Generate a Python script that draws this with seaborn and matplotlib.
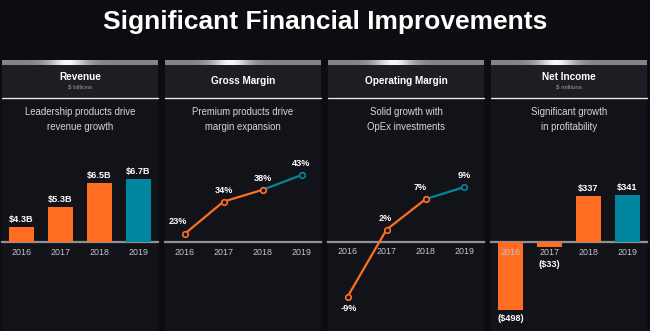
import matplotlib
matplotlib.use("Agg")
import matplotlib.pyplot as plt
import seaborn as sns
import numpy as np
import pandas as pd
from matplotlib.patches import Rectangle

# ---------------- data ----------------
years = ["2016", "2017", "2018", "2019"]
revenue = [4.3, 5.3, 6.5, 6.7]
revenue_labels = ["$4.3B", "$5.3B", "$6.5B", "$6.7B"]
gross_margin = [23, 34, 38, 43]
gross_margin_labels = ["23%", "34%", "38%", "43%"]
operating_margin = [-9, 2, 7, 9]
operating_margin_labels = ["-9%", "2%", "7%", "9%"]
net_income = [-498, -33, 337, 341]
net_income_labels = ["($498)", "($33)", "$337", "$341"]

panel_titles = ["Revenue", "Gross Margin", "Operating Margin", "Net Income"]
panel_units = ["$ billions", "", "", "$ millions"]
panel_notes = ["Leadership products drive\nrevenue growth",
               "Premium products drive\nmargin expansion",
               "Solid growth with\nOpEx investments",
               "Significant growth\nin profitability"]
title = "Significant Financial Improvements"

# ---------------- style ----------------
ORANGE = "#FF6D22"
TEAL = "#00879F"
BG = "#0C0D11"
PANEL = "#121318"
HEADER = "#1D1E23"
TICK = "#C4C6CC"
BASE = "#8E9095"

sns.set_theme(style="dark")
plt.rcParams["font.family"] = ["Liberation Sans", "DejaVu Sans"]

W, H = 650, 331
fig = plt.figure(figsize=(6.5, 3.31), dpi=100, facecolor=BG)


def ax_px(x, y, w, h):
    a = fig.add_axes([x / W, 1 - (y + h) / H, w / W, h / H])
    a.set_facecolor("none")
    return a


# background decoration
bg = fig.add_axes([0, 0, 1, 1])
bg.set_facecolor(BG)
panel_x = [2, 165, 328, 491]
pw = 156
xs = np.linspace(0, 1, 200)
lum = 0.52 + 0.45 * np.exp(-((xs - 0.42) / 0.12) ** 2)
grad = np.dstack([lum, lum, lum * 1.02]).clip(0, 1)
for i, px in enumerate(panel_x):
    bg.add_patch(Rectangle((px, 60), pw, H - 60, color=PANEL, lw=0, zorder=1))
    bg.add_patch(Rectangle((px, 60), pw, 37, color=HEADER, lw=0, zorder=2))
    bg.imshow(grad, extent=(px, px + pw, 65, 60), aspect="auto", zorder=3,
              interpolation="bilinear")
    bg.plot([px, px + pw], [97.5, 97.5], color="#E8E8E8", lw=1.0, zorder=4)
    cx = px + pw / 2
    if panel_units[i]:
        bg.text(cx, 77, panel_titles[i], color="white", fontsize=7.2, fontweight="bold",
                ha="center", va="center", zorder=5)
        bg.text(cx, 87, panel_units[i], color="#9A9CA2", fontsize=4.5,
                ha="center", va="center", zorder=5)
    else:
        bg.text(cx, 81, panel_titles[i], color="white", fontsize=7.2, fontweight="bold",
                ha="center", va="center", zorder=5)
    bg.text(cx, 119.5, panel_notes[i], color="#D4D6DA", fontsize=6.9,
            ha="center", va="center", linespacing=1.55, zorder=5)
bg.text(W / 2, 22, title, color="white", fontsize=19, fontweight="bold",
        ha="center", va="center", zorder=5)
bg.set_xlim(0, W)
bg.set_ylim(H, 0)
bg.axis("off")


def style_axis(a, base_val):
    a.set_axisbelow(False)
    for s in ["top", "right", "left"]:
        a.spines[s].set_visible(False)
    a.spines["bottom"].set_position(("data", base_val))
    a.spines["bottom"].set_color(BASE)
    a.spines["bottom"].set_linewidth(1.6)
    a.spines["bottom"].set_zorder(0.5)
    a.set_yticks([])
    a.set_ylabel("")
    a.set_xlabel("")
    a.grid(False)
    a.tick_params(axis="x", length=0, pad=4, labelsize=6.4, labelcolor=TICK)
    a.set_xlim(-0.5, 3.5)


colors4 = [ORANGE, ORANGE, ORANGE, TEAL]
lab_kw = dict(color="white", fontsize=6.6, fontweight="bold", ha="center",
              textcoords="offset points")

# ---- Panel 1: revenue bars ----
a1 = ax_px(panel_x[0], 140, pw, 102)
df_rev = pd.DataFrame({"year": years, "value": revenue})
sns.barplot(data=df_rev, x="year", y="value", hue="year", palette=colors4,
            legend=False, width=0.62, saturation=1, linewidth=0, ax=a1)
a1.set_ylim(3.55, 8.65)
style_axis(a1, 3.55)
for i, (v, t) in enumerate(zip(revenue, revenue_labels)):
    a1.annotate(t, (i, v), xytext=(0, 2.5), va="bottom", **lab_kw)

# ---- Panel 2: gross margin line ----
a2 = ax_px(panel_x[1], 140, pw, 102)
df_gm = pd.DataFrame({"year": years, "value": gross_margin})
sns.lineplot(data=df_gm.iloc[:3], x="year", y="value", color=ORANGE, lw=1.6,
             marker="o", ms=4, mfc=PANEL, mec=ORANGE, mew=1.2, zorder=4,
             clip_on=False, ax=a2)
sns.lineplot(data=df_gm.iloc[2:], x="year", y="value", color=TEAL, lw=1.6,
             marker="o", ms=4, mfc=PANEL, mec=TEAL, mew=1.2, zorder=3,
             clip_on=False, ax=a2)
a2.set_ylim(20.3, 54.9)
style_axis(a2, 20.3)
gm_off = [(-5, 6), (0, 5), (0, 5), (0, 5)]
for i, (v, t) in enumerate(zip(gross_margin, gross_margin_labels)):
    a2.annotate(t, (i, v), xytext=gm_off[i], va="bottom", **lab_kw)

# ---- Panel 3: operating margin line ----
a3 = ax_px(panel_x[2], 140, pw, 180)
df_om = pd.DataFrame({"year": years, "value": operating_margin})
sns.lineplot(data=df_om.iloc[:3], x="year", y="value", color=ORANGE, lw=1.6,
             marker="o", ms=4, mfc=PANEL, mec=ORANGE, mew=1.2, zorder=4,
             clip_on=False, ax=a3)
sns.lineplot(data=df_om.iloc[2:], x="year", y="value", color=TEAL, lw=1.6,
             marker="o", ms=4, mfc=PANEL, mec=TEAL, mew=1.2, zorder=3,
             clip_on=False, ax=a3)
a3.set_ylim(-12.8, 16.7)
style_axis(a3, 0)
om_off = [(1, -5), (-1, 5), (-4, 5), (0, 5)]
for i, (v, t) in enumerate(zip(operating_margin, operating_margin_labels)):
    a3.annotate(t, (i, v), xytext=om_off[i], va="top" if v < 0 else "bottom", **lab_kw)

# ---- Panel 4: net income bars ----
a4 = ax_px(panel_x[3], 140, pw, 180)
df_ni = pd.DataFrame({"year": years, "value": net_income})
sns.barplot(data=df_ni, x="year", y="value", hue="year", palette=colors4,
            legend=False, width=0.62, saturation=1, linewidth=0, ax=a4)
a4.set_ylim(-571, 747)
style_axis(a4, 0)
for i, (v, t) in enumerate(zip(net_income, net_income_labels)):
    if v < 0:
        off = (0, -10) if i == 1 else (0, -3)
        a4.annotate(t, (i, v), xytext=off, va="top", **lab_kw)
    else:
        a4.annotate(t, (i, v), xytext=(0, 2.5), va="bottom", **lab_kw)

fig.savefig("out.png", dpi=100, facecolor=BG)
